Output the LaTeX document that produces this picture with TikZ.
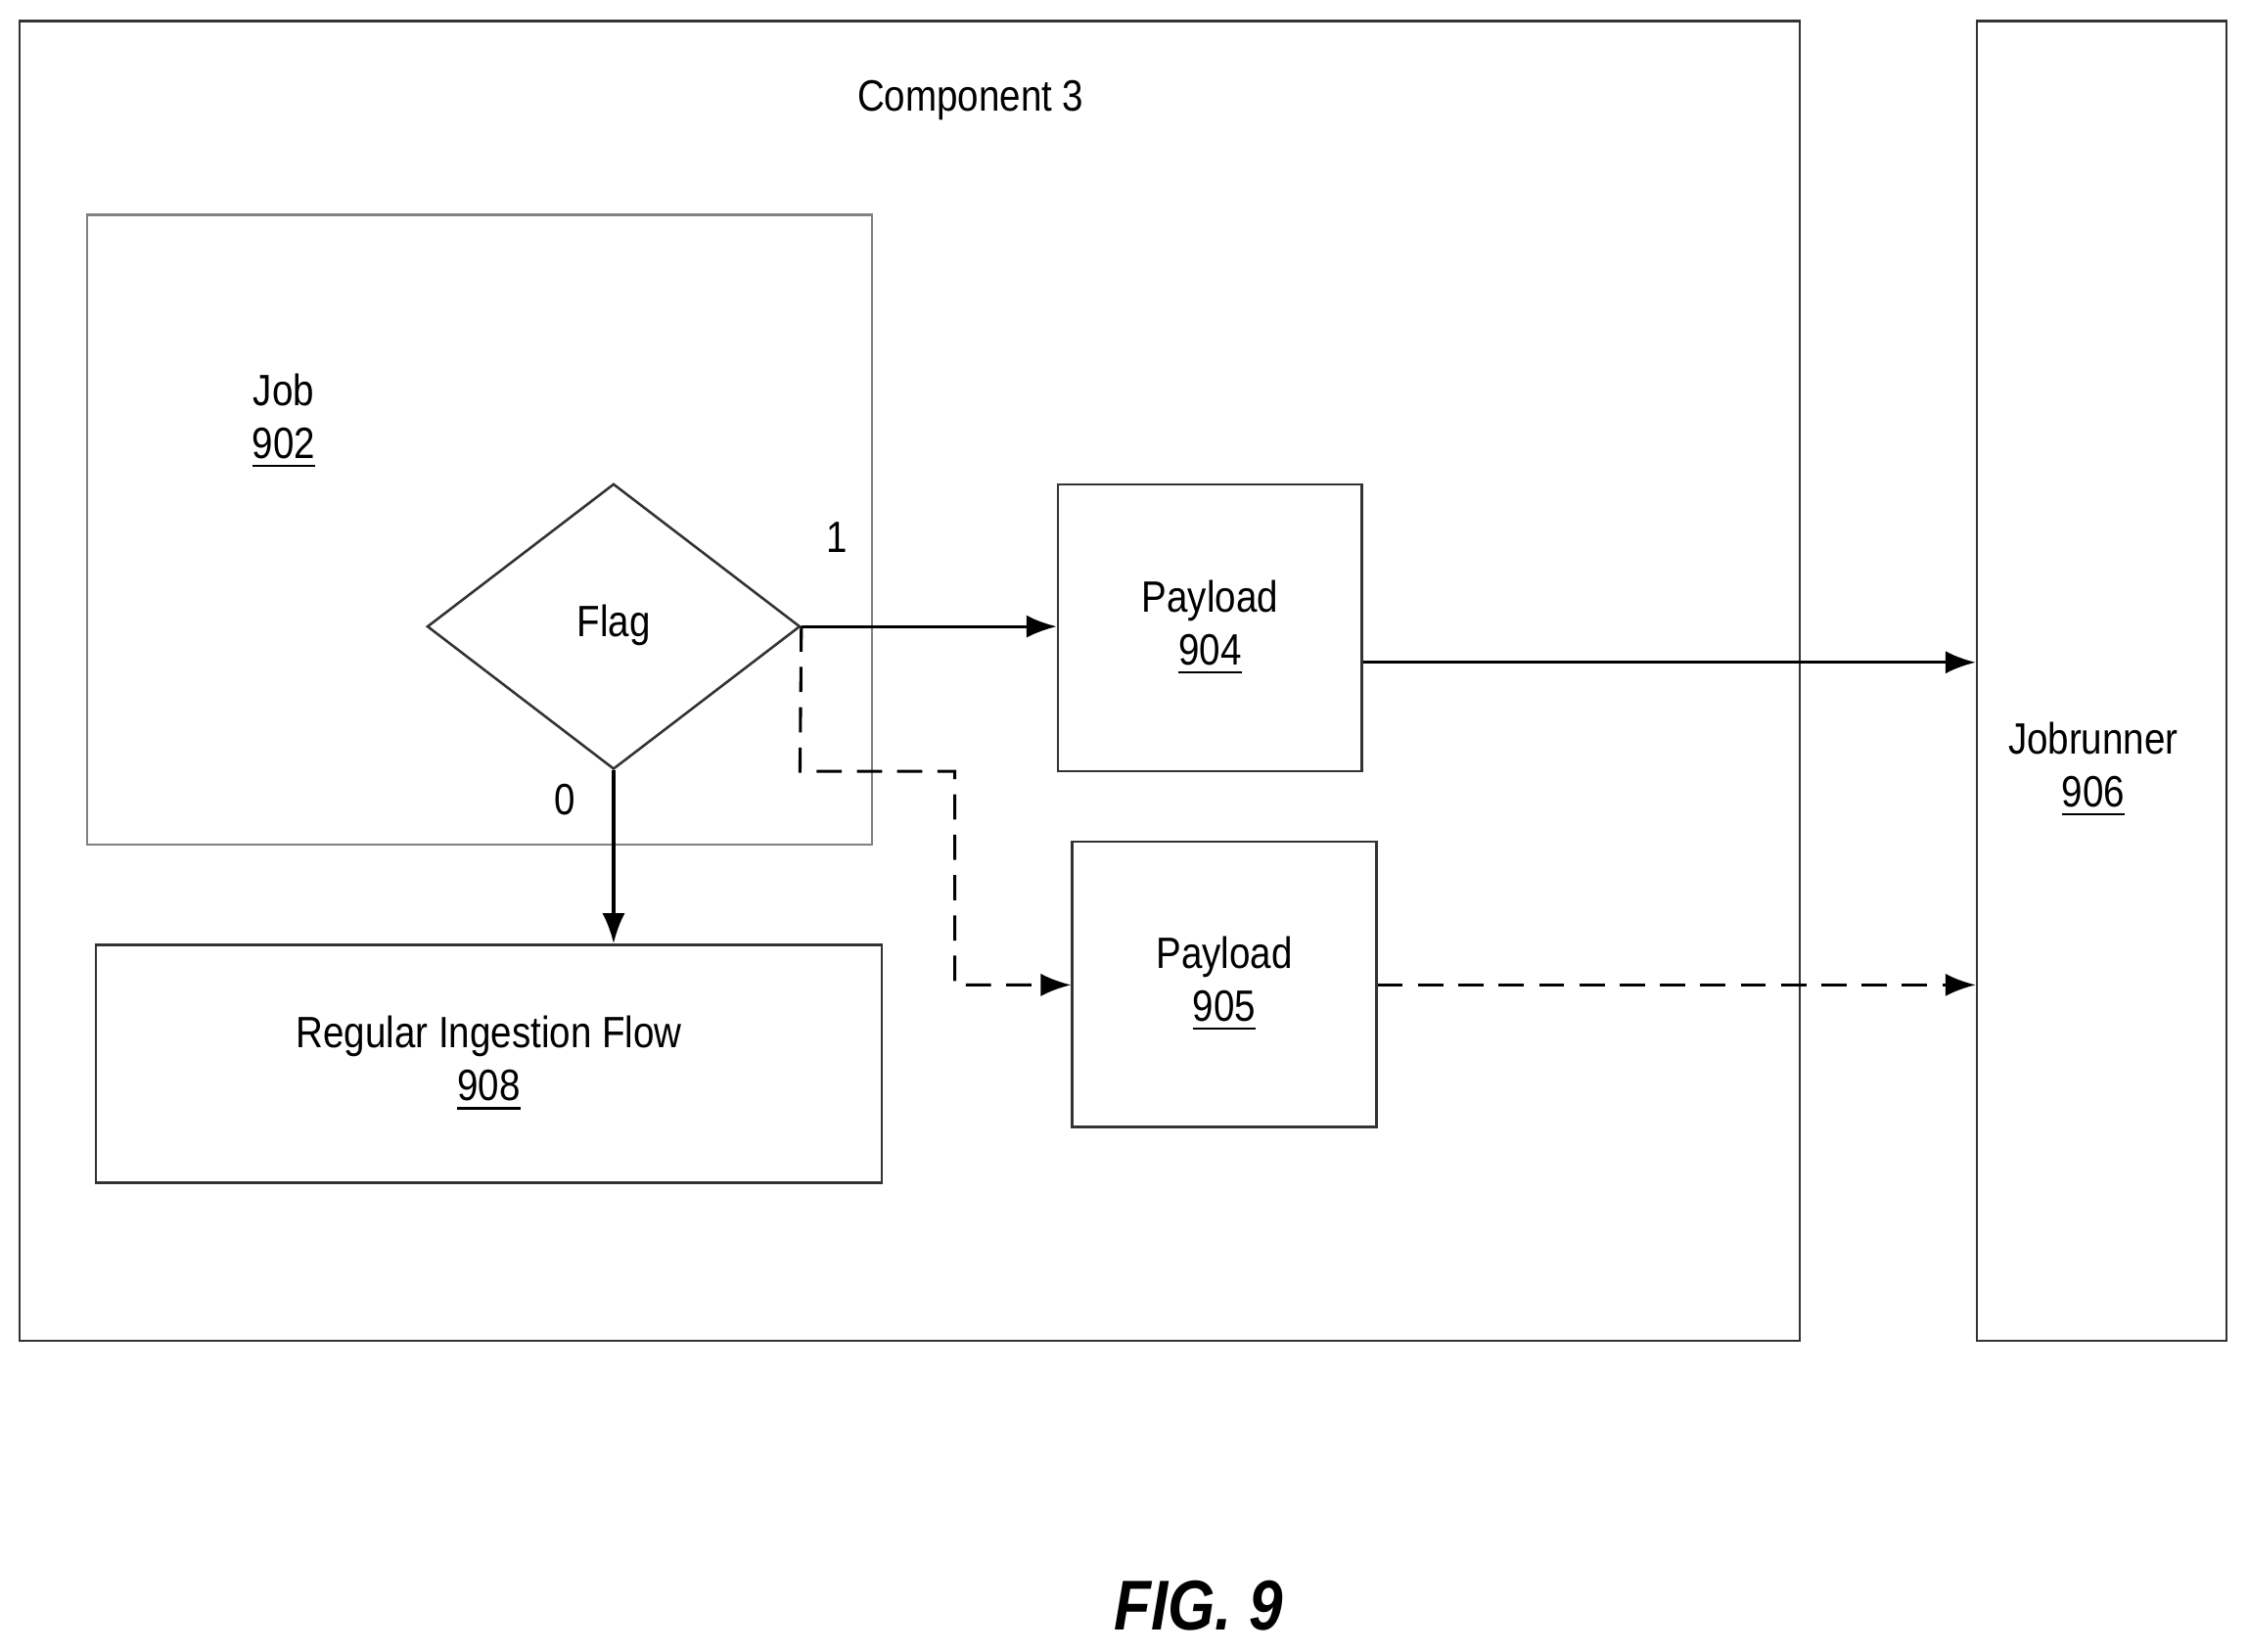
\documentclass[tikz,border=0pt]{standalone}
\usepackage{fontspec}
\setmainfont{Liberation Sans}[FakeStretch=0.86]
\usetikzlibrary{arrows.meta, shapes.geometric, positioning}
\begin{document}
\begin{tikzpicture}[x=0.01cm, y=-0.01cm, font=\fontsize{8.7}{10.5}\selectfont,
  box/.style={draw, black!80, line width=0.5pt, inner sep=0pt, text=black},
  flow/.style={-{Latex[length=6pt,width=4.5pt]}, line width=0.6pt},
  alt/.style={flow, dashed, dash pattern=on 5pt off 3pt}]
\useasboundingbox (0,0) rectangle (1568,1152);
% outer boxes
\node [box, minimum width=12.41cm, minimum height=9.2cm] (comp) at (634.5,475) {};
\node (title) at (677,70) {Component 3};
\node [box, minimum width=1.74cm, minimum height=9.2cm, align=center] (runner) at (1466,475) {};
\node [align=center] at (1460,537) {Jobrunner\\[0pt]\underline{906}};
% job
\node [box, draw=black!50, minimum width=5.47cm, minimum height=4.39cm] (job) at (334.5,369.5) {};
\node [align=center] at (198,294) {Job\\[0pt]\underline{902}};
\node [box, diamond, aspect=1.3, minimum width=2.6cm, minimum height=1.99cm] (flag) at (428,437) {};
\node at (428,436) {Flag};
\node (one) at (584,375) {1};
\node (zero) at (394,558) {0};
% payloads
\node [box, minimum width=2.12cm, minimum height=2cm, align=center] (p904) at (844,438) {Payload\\[0pt]\underline{904}};
\node [box, minimum width=2.12cm, minimum height=1.99cm, align=center] (p905) at (854,686.5) {Payload\\[0pt]\underline{905}};
\node [box, minimum width=5.48cm, minimum height=1.66cm, align=center] (reg) at (341,742) {Regular Ingestion Flow\\[0pt]\underline{908}};
% connectors
\draw [flow] (flag.east) -- (p904.west |- flag.east);
\draw [flow] (p904.east |- 0,462) -- (runner.west |- 0,462);
\draw [flow] (flag.south) -- (reg.north -| flag.south);
\draw [alt] (flag.east) -- (558,538) -- (666,538) -- (666,687) -- (p905.west |- 0,687);
\draw [alt] (p905.east |- 0,687) -- (runner.west |- 0,687);
\node [font=\fontsize{14}{17}\selectfont\bfseries\itshape] (fig) at (836,1120) {FIG. 9};
\end{tikzpicture}
\end{document}
